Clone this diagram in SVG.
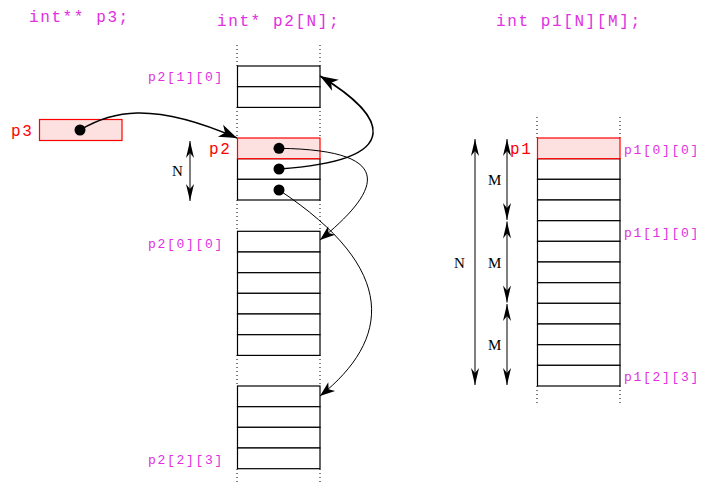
<svg xmlns="http://www.w3.org/2000/svg" width="709" height="485" viewBox="0 0 709 485">
  <style>
    .code { font-family: "Liberation Mono", "DejaVu Sans Mono", monospace; fill: #e030e0; }
    .title { font-size: 16px; letter-spacing: 1.6px; }
    .idx { font-size: 13px; letter-spacing: 1.7px; }
    .ptr { font-family: "Liberation Mono", "DejaVu Sans Mono", monospace; font-size: 16px; letter-spacing: 1.6px; fill: #ff0000; }
    .dim { font-family: "Liberation Serif", "DejaVu Serif", serif; font-size: 15px; fill: #000; }
    .cell { fill: #fff; stroke: #000; stroke-width: 1.2; }
    .hot { fill: #fde0e0; stroke: #ff0000; stroke-width: 1.2; }
    .guide { stroke: #000; stroke-width: 1; stroke-dasharray: 1 3; fill: none; }
    .dot { fill: #000; }
    .thick { fill: none; stroke: #000; stroke-width: 1.6; }
    .thin { fill: none; stroke: #000; stroke-width: 1; }
    .span { fill: none; stroke: #000; stroke-width: 1; marker-start: url(#dimHead); marker-end: url(#dimHead); }
  </style>
  <defs>
    <marker id="bigHead" markerUnits="userSpaceOnUse" viewBox="-19 -7 20 14" refX="0" refY="0" markerWidth="20" markerHeight="14" orient="auto">
      <path d="M0,0 L-18,-6.5 L-13,0 L-18,6.5 Z" fill="#000"/>
    </marker>
    <marker id="head" markerUnits="userSpaceOnUse" viewBox="-16 -6 17 12" refX="0" refY="0" markerWidth="17" markerHeight="12" orient="auto">
      <path d="M0,0 L-15,-5.5 L-11,0 L-15,5.5 Z" fill="#000"/>
    </marker>
    <marker id="dimHead" markerUnits="userSpaceOnUse" viewBox="-18 -5 19 10" refX="0" refY="0" markerWidth="19" markerHeight="10" orient="auto-start-reverse">
      <path d="M0,0 L-17,-4 L-12,0 L-17,4 Z" fill="#000"/>
    </marker>
  </defs>

  <!-- declarations -->
  <text class="code title" x="29" y="22">int** p3;</text>
  <text class="code title" x="217" y="26">int* p2[N];</text>
  <text class="code title" x="496" y="26">int p1[N][M];</text>

  <!-- column guides -->
  <g id="guides">
    <path class="guide" d="M237,45 V66 M320,45 V66 M237,107 V138 M320,107 V138 M237,200 V231 M320,200 V231 M237,355 V386 M320,355 V386 M237,469 V483 M320,469 V483"/>
    <path class="guide" d="M537,117 V138 M620,117 V138 M537,386 V404 M620,386 V404"/>
  </g>

  <!-- p3: pointer to pointer -->
  <g id="p3">
    <rect class="hot" x="39.5" y="119.5" width="82.5" height="21"/>
    <text class="ptr" x="11" y="136">p3</text>
    <circle class="dot" cx="80" cy="130" r="5.5"/>
  </g>

  <!-- row block p2[1] -->
  <g id="p2-row1">
    <rect class="cell" x="237.5" y="66" width="82.5" height="20.7"/>
    <rect class="cell" x="237.5" y="86.7" width="82.5" height="20.7"/>
    <text class="code idx" x="148" y="81">p2[1][0]</text>
  </g>

  <!-- pointer array p2 -->
  <g id="p2">
    <rect class="cell" x="237.5" y="158.7" width="82.5" height="20.7"/>
    <rect class="cell" x="237.5" y="179.3" width="82.5" height="20.7"/>
    <rect class="hot" x="237.5" y="138" width="82.5" height="20.7"/>
    <text class="ptr" x="209" y="154">p2</text>
    <circle class="dot" cx="279" cy="148.3" r="5.5"/>
    <circle class="dot" cx="279" cy="169" r="5.5"/>
    <circle class="dot" cx="279" cy="190" r="5.5"/>
    <path class="span" d="M190,141 V201"/>
    <text class="dim" x="172" y="176">N</text>
  </g>

  <!-- row block p2[0] -->
  <g id="p2-row0">
    <rect class="cell" x="237.5" y="231.3" width="82.5" height="20.7"/>
    <rect class="cell" x="237.5" y="252" width="82.5" height="20.7"/>
    <rect class="cell" x="237.5" y="272.7" width="82.5" height="20.7"/>
    <rect class="cell" x="237.5" y="293.3" width="82.5" height="20.7"/>
    <rect class="cell" x="237.5" y="314" width="82.5" height="20.7"/>
    <rect class="cell" x="237.5" y="334.7" width="82.5" height="20.7"/>
    <text class="code idx" x="148" y="248">p2[0][0]</text>
  </g>

  <!-- row block p2[2] -->
  <g id="p2-row2">
    <rect class="cell" x="237.5" y="386" width="82.5" height="20.7"/>
    <rect class="cell" x="237.5" y="406.7" width="82.5" height="20.7"/>
    <rect class="cell" x="237.5" y="427.3" width="82.5" height="20.7"/>
    <rect class="cell" x="237.5" y="448" width="82.5" height="20.7"/>
    <text class="code idx" x="148" y="464">p2[2][3]</text>
  </g>

  <!-- contiguous 2D array p1 -->
  <g id="p1">
    <rect class="cell" x="537.5" y="158.7" width="82.5" height="20.7"/>
    <rect class="cell" x="537.5" y="179.3" width="82.5" height="20.7"/>
    <rect class="cell" x="537.5" y="200" width="82.5" height="20.7"/>
    <rect class="cell" x="537.5" y="220.7" width="82.5" height="20.7"/>
    <rect class="cell" x="537.5" y="241.3" width="82.5" height="20.7"/>
    <rect class="cell" x="537.5" y="262" width="82.5" height="20.7"/>
    <rect class="cell" x="537.5" y="282.7" width="82.5" height="20.7"/>
    <rect class="cell" x="537.5" y="303.3" width="82.5" height="20.7"/>
    <rect class="cell" x="537.5" y="324" width="82.5" height="20.7"/>
    <rect class="cell" x="537.5" y="344.7" width="82.5" height="20.7"/>
    <rect class="cell" x="537.5" y="365.3" width="82.5" height="20.7"/>
    <rect class="hot" x="537.5" y="138" width="82.5" height="20.7"/>
    <text class="ptr" x="510" y="154">p1</text>
    <text class="code idx" x="624" y="154">p1[0][0]</text>
    <text class="code idx" x="624" y="237">p1[1][0]</text>
    <text class="code idx" x="624" y="381">p1[2][3]</text>
    <path class="span" d="M475,139 V385"/>
    <text class="dim" x="454" y="268">N</text>
    <path class="span" d="M507,139 V220"/>
    <path class="span" d="M507,221.5 V302.5"/>
    <path class="span" d="M507,304 V385"/>
    <text class="dim" x="488" y="185">M</text>
    <text class="dim" x="488" y="268">M</text>
    <text class="dim" x="488" y="350">M</text>
  </g>

  <!-- connectors -->
  <g id="connectors">
    <path class="thick" d="M80,130 C110,112 150,100 237,138" marker-end="url(#bigHead)"/>
    <path class="thick" d="M279,169 C410,160 385,115 320,76" marker-end="url(#bigHead)"/>
    <path class="thin" d="M279,148.3 C405,150 375,195 320,240" marker-end="url(#head)"/>
    <path class="thin" d="M279,190 C400,270 390,340 320,396" marker-end="url(#head)"/>
  </g>
</svg>
